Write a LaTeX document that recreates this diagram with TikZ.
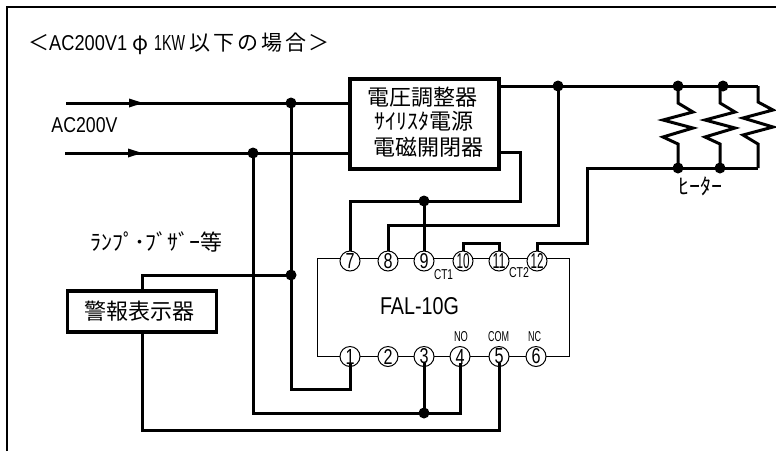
\documentclass[tikz,border=0pt]{standalone}
\usepackage{fontspec}
\usepackage{graphicx}
\setmainfont{Noto Sans CJK JP}
\newfontfamily\latinf{Liberation Sans}
\newcommand{\fitt}[3]{\resizebox{#1pt}{#2pt}{\latinf #3}}
\tikzset{
  x=1pt,y=-1pt,
  wire/.style={line width=3pt,line join=miter},
  boxn/.style={draw,line width=3.2pt,inner sep=0pt,fill=white},
  term/.style={draw,circle,line width=1pt,minimum size=20pt,inner sep=0pt,fill=white},
  dot/.style={circle,fill=black,inner sep=0pt,minimum size=11pt},
  lbl/.style={inner sep=0pt,font=\fontsize{22}{22}\selectfont},
  kana/.style={inner sep=0pt,font=\fontsize{22}{22}\selectfont},
  small/.style={inner sep=0pt},
  tip/.style={fill=black,draw=none},
}
\begin{document}
\begin{tikzpicture}
\useasboundingbox (0,0) rectangle (776,451);
\fill[white] (0,0) rectangle (776,451);
% frame
\draw[line width=1.6pt] (7,451) -- (7,7) -- (776,7);
% title
\node[lbl,anchor=west,font=\fontsize{21}{21}\selectfont] (title) at (28,44) {\makebox[21pt][c]{＜}\fitt{78}{15}{AC200V1}\makebox[27pt][c]{φ}\fitt{31}{15}{1KW}\hspace{3pt}\makebox[24pt][c]{以}\makebox[24pt][c]{下}\makebox[24pt][c]{の}\makebox[24pt][c]{場}\makebox[24pt][c]{合}\makebox[21pt][c]{＞}};
% nodes
\node[boxn,minimum width=149pt,minimum height=90pt] (reg) at (424.5,124) {};
\node[boxn,minimum width=149pt,minimum height=41pt] (alarm) at (142,311.5) {};
\node[lbl] (regA) at (422.5,97) {電圧調整器};
\node[lbl] (regB) at (424,121) {ｻｲﾘｽﾀ電源};
\node[lbl] (regC) at (428.5,147) {電磁開閉器};
\node[lbl] (alarmT) at (139.5,311) {警報表示器};
\node[small] (acl) at (84.5,125) {\fitt{66}{15}{AC200V}};
\node[kana] (lamp) at (156,242) {ﾗﾝﾌﾟ･ﾌﾞｻﾞｰ等};
\node[kana] (heat) at (700,186) {ﾋｰﾀｰ};
% unit body
\draw[line width=1pt] (317,356.5) rectangle (569,258);
\node[small] (fal) at (419.5,306) {\fitt{79}{17}{FAL-10G}};
% terminals
\foreach \n/\t/\x in {t7/7/350,t8/8/388,t9/9/424}
  \node[term] (\n) at (\x,261) {\fitt{9}{15}{\t}};
\foreach \n/\t/\x in {t10/10/463,t11/11/499,t12/12/537}
  \node[term] (\n) at (\x,261) {\fitt{13}{15}{\t}};
\foreach \n/\t/\x in {t1/1/350,t2/2/388,t3/3/424,t4/4/460,t5/5/499,t6/6/536}
  \node[term] (\n) at (\x,356.5) {\fitt{9}{15}{\t}};
\node[small] (ct1) at (443.5,275) {\fitt{19}{10}{CT1}};
\node[small] (ct2) at (519,273) {\fitt{20}{10}{CT2}};
\node[small] (no) at (461,337) {\fitt{14}{10}{NO}};
\node[small] (com) at (498.5,337) {\fitt{21}{10}{COM}};
\node[small] (nc) at (534.5,337) {\fitt{13}{10}{NC}};
% free ends and junctions
\coordinate (in1) at (66,103);
\coordinate (in2) at (65,153);
\node[dot] (j1) at (291,103) {};
\node[dot] (j2) at (253,153) {};
\node[dot] (j3) at (291,275) {};
\node[dot] (j4) at (424,201) {};
\node[dot] (j5) at (424,413) {};
\node[dot] (j6) at (558,86) {};
\node[dot] (j7) at (678,86) {};
\node[dot] (j8) at (723,86) {};
\node[dot] (j9) at (678,168) {};
\node[dot] (j10) at (720,168) {};
\coordinate (rt) at (758,86);
\coordinate (rb) at (758,168);
% wires
\draw[wire] (in1) -- (reg.west |- in1);
\draw[wire] (in2) -- (reg.west |- in2);
\fill[tip] (129,98.5) -- (143,103) -- (129,107.5) -- cycle;
\fill[tip] (128,148.5) -- (142,153) -- (128,157.5) -- cycle;
\draw[wire,shorten >=6pt] (j1.center) -- (291,389) -- (350,389) -- (t1.center);
\draw[wire,shorten >=6pt] (j2.center) -- (253,413) -- (460,413) -- (t4.center);
\draw[wire,shorten >=6pt] (j5.center) -- (t3.center);
\draw[wire] (j3.center) -- (142,275) -- (alarm.north);
\draw[wire,shorten >=6pt] (alarm.south) -- (142,430) -- (499,430) -- (t5.center);
\draw[wire] (t7.north) -- (350,201) -- (520,201) -- (520,152) -- (499,152);
\draw[wire] (j4.center) -- (t9.north);
\draw[wire] (t8.north) -- (388,225) -- (558,225) -- (j6.center);
\draw[wire] (499,86) -- (rt);
\draw[wire] (t10.north) -- (463,243) -- (499,243) -- (t11.north);
\draw[wire] (t12.north) -- (537,243) -- (587,243) -- (587,168) -- (rb);
\draw[wire] (j7.center) -- (678,103) -- (693,112) -- (663,120) -- (693,128) -- (663,137) -- (678,144) -- (j9.center);
\draw[wire] (j8.center) -- (720,90) -- (720,103) -- (735,112) -- (705,120) -- (735,128) -- (705,137) -- (720,144) -- (j10.center);
\draw[wire] (rt) -- (758,102) -- (773,110) -- (743,118) -- (773,127) -- (743,135) -- (758,144) -- (rb);
\end{tikzpicture}
\end{document}
